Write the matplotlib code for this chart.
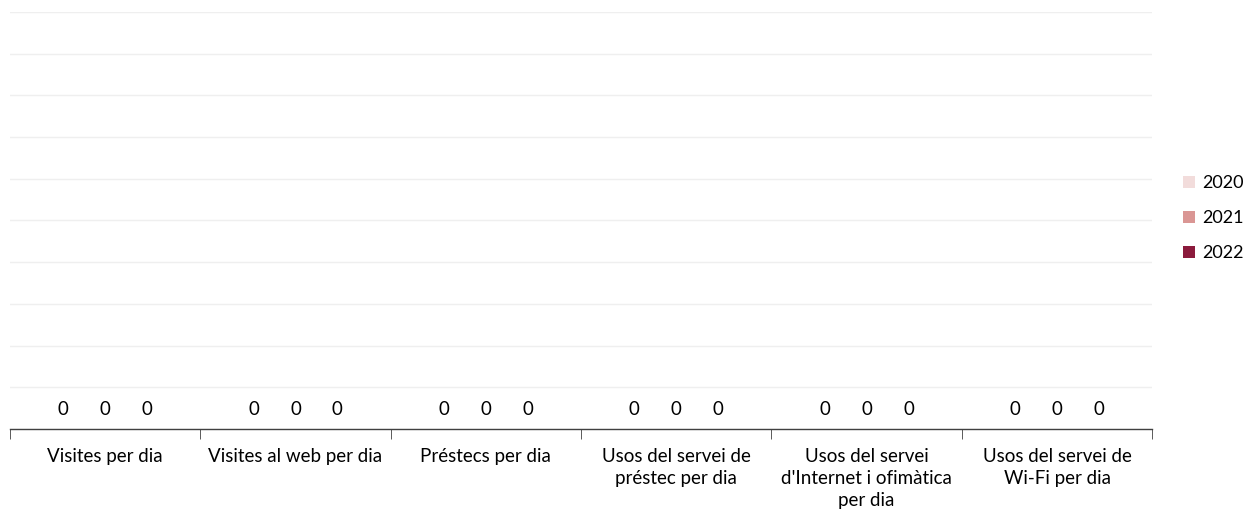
import matplotlib
matplotlib.use("Agg")
import matplotlib.pyplot as plt
import numpy as np

categories = ["Visites per dia", "Visites al web per dia", "Préstecs per dia",
              "Usos del servei de\npréstec per dia",
              "Usos del servei\nd'Internet i ofimàtica\nper dia",
              "Usos del servei de\nWi-Fi per dia"]
years = ["2020", "2021", "2022"]
vals_2020 = [0, 0, 0, 0, 0, 0]
vals_2021 = [0, 0, 0, 0, 0, 0]
vals_2022 = [0, 0, 0, 0, 0, 0]
colors = ["#F2DCDB", "#DA9694", "#8B1A3C"]

plt.rcParams['font.family'] = ['Lato', 'DejaVu Sans']

fig = plt.figure(figsize=(12.47, 5.18), dpi=100)
ax = fig.add_axes([0.008, 0.172, 0.916, 0.805])

x = np.arange(len(categories))
w = 0.22
for i, (vals, yr) in enumerate(zip([vals_2020, vals_2021, vals_2022], years)):
    bars = ax.bar(x + (i - 1) * w, vals, w, color=colors[i], label=yr, zorder=3)
    ax.bar_label(bars, padding=8, fontsize=13.5, color="#000000")

ax.set_xlim(-0.5, len(categories) - 0.5)
ax.set_ylim(0, 10)
ax.set_yticks(np.arange(0, 11, 1))
ax.yaxis.grid(True, color="#EFEFEF", linewidth=1, zorder=0)
ax.tick_params(axis='y', length=0, labelleft=False)
for s in ["top", "right", "left"]:
    ax.spines[s].set_visible(False)
ax.spines["bottom"].set_color("#404040")
ax.spines["bottom"].set_linewidth(1)

ax.set_xticks(x)
ax.set_xticklabels(categories, fontsize=13.5, linespacing=1.35)
ax.tick_params(axis='x', which='major', length=0, pad=14)
ax.set_xticks(np.arange(-0.5, len(categories)), minor=True)
ax.tick_params(axis='x', which='minor', length=7, color="#404040")

leg = ax.legend(loc="center left", bbox_to_anchor=(1.013, 0.505), frameon=False,
                fontsize=13, handlelength=0.65, handleheight=0.65,
                handletextpad=0.4, labelspacing=1.05)

plt.savefig("out.png", dpi=100)
